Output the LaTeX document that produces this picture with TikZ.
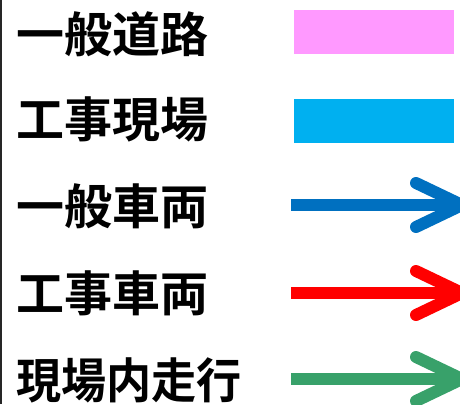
\documentclass[tikz,border=0pt]{standalone}
\usepackage{fontspec}
\newfontfamily\jpfont{Noto Sans CJK JP}[BoldFont={Noto Sans CJK JP Bold}]
\usetikzlibrary{arrows.meta}
\definecolor{colROAD}{RGB}{255,153,255}
\definecolor{colSITE}{RGB}{0,176,240}
\definecolor{colCAR}{RGB}{0,112,192}
\definecolor{colWORK}{RGB}{255,0,0}
\definecolor{colINSIDE}{RGB}{56,161,106}

\begin{document}
\begin{tikzpicture}[x=1pt, y=-1pt,
    every node/.style={font=\jpfont\bfseries\fontsize{48}{48}\selectfont, inner sep=0pt, anchor=west},
    legbox/.style={minimum width=160pt, minimum height=44pt, anchor=center},
    legarrow/.style={line width=12pt, -{Straight Barb[length=46pt, width=44pt, line cap=round, line join=round]}}]
      \useasboundingbox (0,0) rectangle (460,404);
      % --- frame edge on the left ---
      \draw[line width=1.5pt, black!85] (0.75,0) -- (0.75,404);
      % --- labels ---
      \node (roadlbl) at (16,34) {一般道路};
      \node (sitelbl) at (16,119) {工事現場};
      \node (carlbl) at (16,206) {一般車両};
      \node (worklbl) at (16,293) {工事車両};
      \node[xscale=0.94] (insidelbl) at (16,380) {現場内走行};
      % --- areas ---
      \node[legbox, fill=colROAD] (roadbox) at (374,32) {};
      \node[legbox, fill=colSITE] (sitebox) at (374,121) {};
      % --- vehicle routes ---
      \coordinate (carS) at (291,205);
      \coordinate (carE) at (468,205);
      \coordinate (workS) at (291,293);
      \coordinate (workE) at (468,293);
      \coordinate (insideS) at (291,379);
      \coordinate (insideE) at (468,379);
      \draw[legarrow, colCAR] (carS) -- (carE);
      \draw[legarrow, colWORK] (workS) -- (workE);
      \draw[legarrow, colINSIDE] (insideS) -- (insideE);
    \end{tikzpicture}
\end{document}
